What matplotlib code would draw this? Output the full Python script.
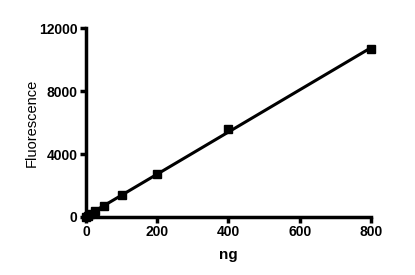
import matplotlib
matplotlib.use("Agg")
import matplotlib.pyplot as plt
import numpy as np

plt.rcParams['font.family'] = ['Liberation Sans', 'DejaVu Sans']

# standard curve data
ng = [0, 6.25, 12.5, 25, 50, 100, 200, 400, 800]
fluor = [0, 90, 180, 350, 700, 1420, 2750, 5580, 10650]
xticks = [0, 200, 400, 600, 800]
yticks = [0, 4000, 8000, 12000]

fig = plt.figure(figsize=(4.15, 2.75), dpi=100)
ax = fig.add_axes([0.207, 0.211, 0.687, 0.687])

# linear fit line
slope, icpt = np.polyfit(ng, fluor, 1)
xl = np.array([0, 800])
ax.plot(xl, slope * xl + icpt, color='black', lw=2.2, clip_on=False, zorder=2)
ax.plot(ng, fluor, 's', color='black', ms=5.5, clip_on=False, zorder=3)

ax.set_xlim(0, 800)
ax.set_ylim(0, 12000)
ax.set_xticks(xticks)
ax.set_yticks(yticks)
ax.set_xticklabels([str(v) for v in xticks], fontweight='bold', fontsize=10)
ax.set_yticklabels([str(v) for v in yticks], fontweight='bold', fontsize=10)

for s in ['top', 'right']:
    ax.spines[s].set_visible(False)
for s in ['left', 'bottom']:
    ax.spines[s].set_linewidth(2.5)
ax.tick_params(width=2.5, length=4, pad=2)

ax.set_xlabel('ng', fontsize=11, fontweight='bold', labelpad=6)
ax.set_ylabel('Fluorescence', fontsize=10.5, labelpad=0.5)

fig.savefig('out.png', dpi=100)
